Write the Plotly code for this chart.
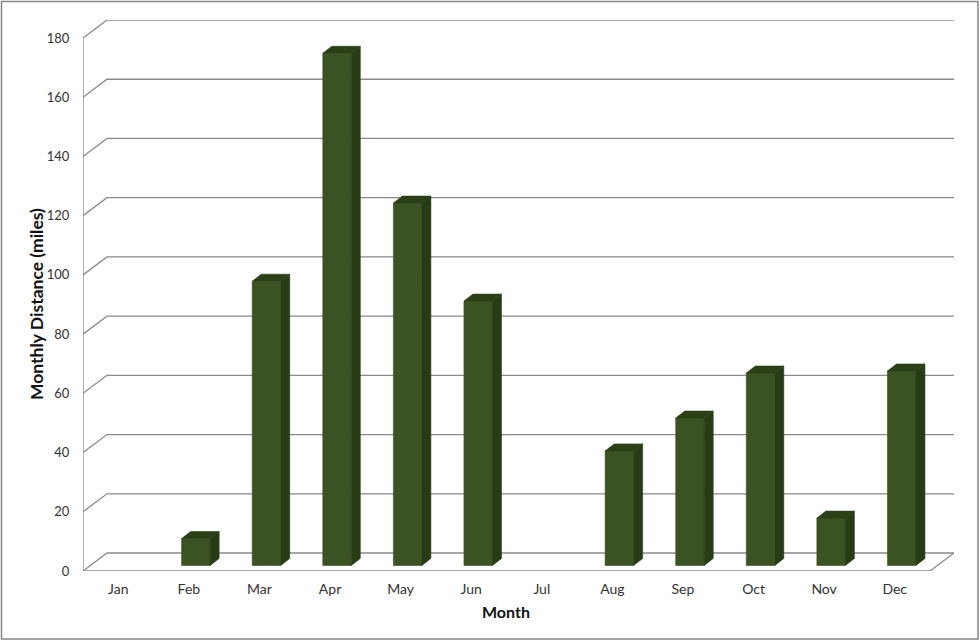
import plotly.graph_objects as go

months = ["Jan", "Feb", "Mar", "Apr", "May", "Jun", "Jul", "Aug", "Sep", "Oct", "Nov", "Dec"]
distance = [None, 9.1, 96, 173, 122.4, 89.3, None, 38.7, 49.8, 65, 16, 65.7]
y_ticks = [0, 20, 40, 60, 80, 100, 120, 140, 160, 180]

W, H = 980, 643
LEFT, RIGHT, BOTTOM, TOP = 83, 954, 571, 20
CAT_PX = 70.58
UNIT_PX = 2.961
WALL_DX, WALL_DY = 24 / CAT_PX, 18 / UNIT_PX
BAR_OX, BAR_OY = 7 / CAT_PX, 5.5 / UNIT_PX
BAR_DX, BAR_DY = 9 / CAT_PX, 7 / UNIT_PX
BAR_W = 28.5 / CAT_PX

x_range = [-0.5, 11.5 + WALL_DX]
y_range = [0, (BOTTOM - TOP) / UNIT_PX]
GRID = "#8a8a8a"
FRONT, SIDE, CAP = "#3b5323", "#273b15", "#2b4017"
TEXT = "#333333"
FONT = "Lato, 'Open Sans', sans-serif"

# walls
gx, gy = [], []
x0, x1 = -0.5, 11.5
for v in y_ticks:
    gx += [x0, x0 + WALL_DX, x1 + WALL_DX, None]
    gy += [v, v + WALL_DY, v + WALL_DY, None]
gx += [x0, x0, None, x0, x1, x1 + WALL_DX]
gy += [0, y_ticks[-1], None, 0, 0, WALL_DY]

sx, sy, tx, ty = [], [], [], []
for i, v in enumerate(distance):
    if v is None:
        continue
    l = i + BAR_OX - BAR_W / 2
    r = i + BAR_OX + BAR_W / 2
    b = BAR_OY
    t = BAR_OY + v
    sx += [r, r + BAR_DX, r + BAR_DX, r, r, None]
    sy += [b, b + BAR_DY, t + BAR_DY, t, b, None]
    tx += [l, l + BAR_DX, r + BAR_DX, r, l, None]
    ty += [t, t + BAR_DY, t + BAR_DY, t, t, None]

fig = go.Figure()
fig.add_trace(go.Scatter(x=gx, y=gy, mode="lines", line=dict(color=GRID, width=1.3),
                         cliponaxis=False, hoverinfo="skip", showlegend=False))
fig.add_trace(go.Bar(x=[i + BAR_OX for i in range(len(months))], y=distance, base=BAR_OY,
                     width=BAR_W, marker=dict(color=FRONT, line=dict(width=0.6, color=FRONT)),
                     xaxis="x2", yaxis="y2", showlegend=False, name="Monthly Distance"))
for xs, ys, c in ((sx, sy, SIDE), (tx, ty, CAP)):
    fig.add_trace(go.Scatter(x=xs, y=ys, mode="lines", fill="toself", fillcolor=c,
                             line=dict(width=0.6, color=c), xaxis="x2", yaxis="y2",
                             cliponaxis=False, hoverinfo="skip", showlegend=False))

domx = [LEFT / W, RIGHT / W]
domy = [(H - BOTTOM) / H, (H - TOP) / H]
xtickfont = dict(family=FONT, size=14, color=TEXT)
ytickfont = dict(family=FONT, size=13, color=TEXT)
fig.update_layout(
    width=W, height=H, autosize=False,
    margin=dict(l=0, r=0, t=0, b=0, pad=0),
    paper_bgcolor="white", plot_bgcolor="white",
    barmode="overlay",
    xaxis=dict(domain=domx, range=x_range, tickmode="array", automargin=False,
               tickvals=list(range(len(months))), ticktext=months,
               showgrid=False, zeroline=False, showline=False, ticks="outside",
               ticklen=5, tickcolor="rgba(0,0,0,0)", tickfont=xtickfont),
    yaxis=dict(domain=domy, range=y_range, tickmode="array", tickvals=y_ticks, automargin=False,
               showgrid=False, zeroline=False, showline=False, ticks="outside",
               ticklen=10, tickcolor="rgba(0,0,0,0)", tickfont=ytickfont),
    xaxis2=dict(domain=domx, range=x_range, overlaying="x", visible=False, automargin=False),
    yaxis2=dict(domain=domy, range=y_range, overlaying="y", visible=False, automargin=False),
    shapes=[dict(type="rect", xref="paper", yref="paper", x0=1.5 / W, x1=978 / W,
                 y0=(H - 639) / H, y1=(H - 1.5) / H,
                 line=dict(color="#868686", width=1.5), layer="below")],
    annotations=[
        dict(text="Month", xref="paper", yref="paper", x=506 / W, y=(H - 611) / H,
             showarrow=False, font=dict(family=FONT, size=16, color="#111111", weight="bold"),
             xanchor="center", yanchor="middle"),
        dict(text="Monthly Distance (miles)", xref="paper", yref="paper", x=36 / W,
             y=(H - 304) / H, textangle=-90, showarrow=False,
             font=dict(family=FONT, size=17.5, color="#111111", weight="bold"),
             xanchor="center", yanchor="middle"),
    ],
)
fig.write_html("out.html", config={"displayModeBar": False},
               post_script="document.body.style.margin='0';")
